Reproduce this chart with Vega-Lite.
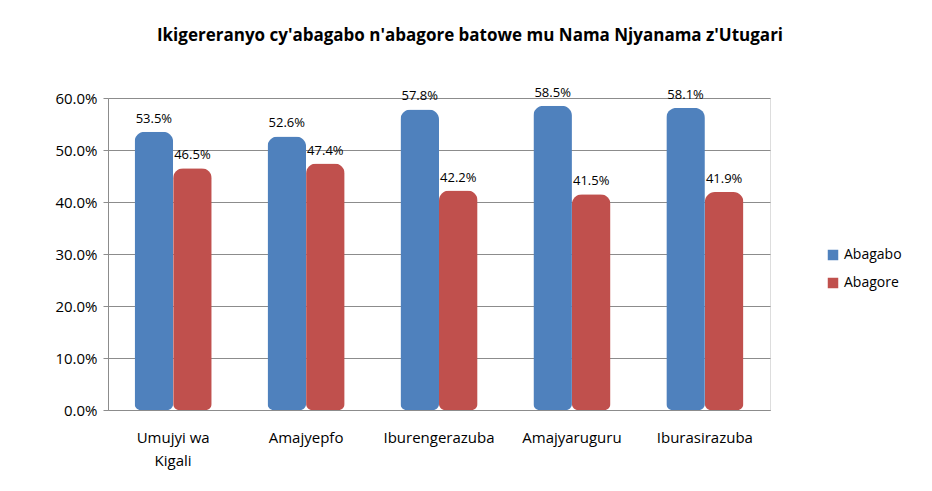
{
  "$schema": "https://vega.github.io/schema/vega-lite/v6.json",
  "width": 662,
  "height": 312,
  "autosize": {"type": "none"},
  "padding": {"left": 108, "top": 98, "right": 162, "bottom": 81},
  "background": "white",
  "title": {
    "text": "Ikigereranyo cy'abagabo n'abagore batowe mu Nama Njyanama z'Utugari",
    "font": "Open Sans",
    "fontSize": 17,
    "fontWeight": "bold",
    "color": "#000000",
    "anchor": "middle",
    "offset": 42,
    "dx": 31
  },
  "data": {
    "values": [
      {"Intara": "Umujyi wa Kigali", "Igitsina": "Abagabo", "Ijanisha": 0.535},
      {"Intara": "Umujyi wa Kigali", "Igitsina": "Abagore", "Ijanisha": 0.465},
      {"Intara": "Amajyepfo", "Igitsina": "Abagabo", "Ijanisha": 0.526},
      {"Intara": "Amajyepfo", "Igitsina": "Abagore", "Ijanisha": 0.474},
      {"Intara": "Iburengerazuba", "Igitsina": "Abagabo", "Ijanisha": 0.578},
      {"Intara": "Iburengerazuba", "Igitsina": "Abagore", "Ijanisha": 0.422},
      {"Intara": "Amajyaruguru", "Igitsina": "Abagabo", "Ijanisha": 0.585},
      {"Intara": "Amajyaruguru", "Igitsina": "Abagore", "Ijanisha": 0.415},
      {"Intara": "Iburasirazuba", "Igitsina": "Abagabo", "Ijanisha": 0.581},
      {"Intara": "Iburasirazuba", "Igitsina": "Abagore", "Ijanisha": 0.419}
    ]
  },
  "encoding": {
    "x": {
      "field": "Intara",
      "type": "nominal",
      "sort": ["Umujyi wa Kigali", "Amajyepfo", "Iburengerazuba", "Amajyaruguru", "Iburasirazuba"],
      "scale": {"paddingInner": 0.42, "paddingOuter": 0.2},
      "axis": {
        "title": null,
        "labelAngle": 0,
        "labelFont": "Open Sans",
        "labelFontSize": 15,
        "labelColor": "#000000",
        "labelPadding": 20,
        "labelLineHeight": 23,
        "labelBaseline": "top",
        "ticks": false,
        "domainColor": "#8c8c8c",
        "labelExpr": "datum.label == 'Umujyi wa Kigali' ? ['Umujyi wa', 'Kigali'] : datum.label"
      }
    },
    "xOffset": {"field": "Igitsina", "type": "nominal", "sort": ["Abagabo", "Abagore"], "scale": {"paddingInner": 0}},
    "y": {
      "field": "Ijanisha",
      "type": "quantitative",
      "scale": {"domain": [0, 0.6]},
      "axis": {
        "title": null,
        "format": ".1%",
        "values": [0, 0.1, 0.2, 0.3, 0.4, 0.5, 0.6],
        "labelFont": "Open Sans",
        "labelFontSize": 15,
        "labelColor": "#000000",
        "labelPadding": 6,
        "tickSize": 5,
        "tickColor": "#8c8c8c",
        "domainColor": "#8c8c8c",
        "gridColor": "#8c8c8c",
        "gridWidth": 1.2
      }
    }
  },
  "layer": [
    {
      "mark": {"type": "bar", "cornerRadiusTopLeft": 10, "cornerRadiusTopRight": 10, "cornerRadiusBottomLeft": 6, "cornerRadiusBottomRight": 6},
      "encoding": {
        "color": {
          "field": "Igitsina",
          "type": "nominal",
          "scale": {"domain": ["Abagabo", "Abagore"], "range": ["#4F81BD", "#C0504D"]},
          "legend": {
            "title": null,
            "orient": "none",
            "legendX": 718,
            "legendY": 150,
            "symbolType": "square",
            "symbolSize": 110,
            "labelFont": "Open Sans",
            "labelFontSize": 14,
            "labelColor": "#000000",
            "rowPadding": 14
          }
        }
      }
    },
    {
      "mark": {"type": "text", "baseline": "bottom", "dy": -6, "font": "Open Sans", "fontSize": 13, "color": "#000000"},
      "encoding": {
        "text": {"field": "Ijanisha", "type": "quantitative", "format": ".1%"}
      }
    }
  ]
}
